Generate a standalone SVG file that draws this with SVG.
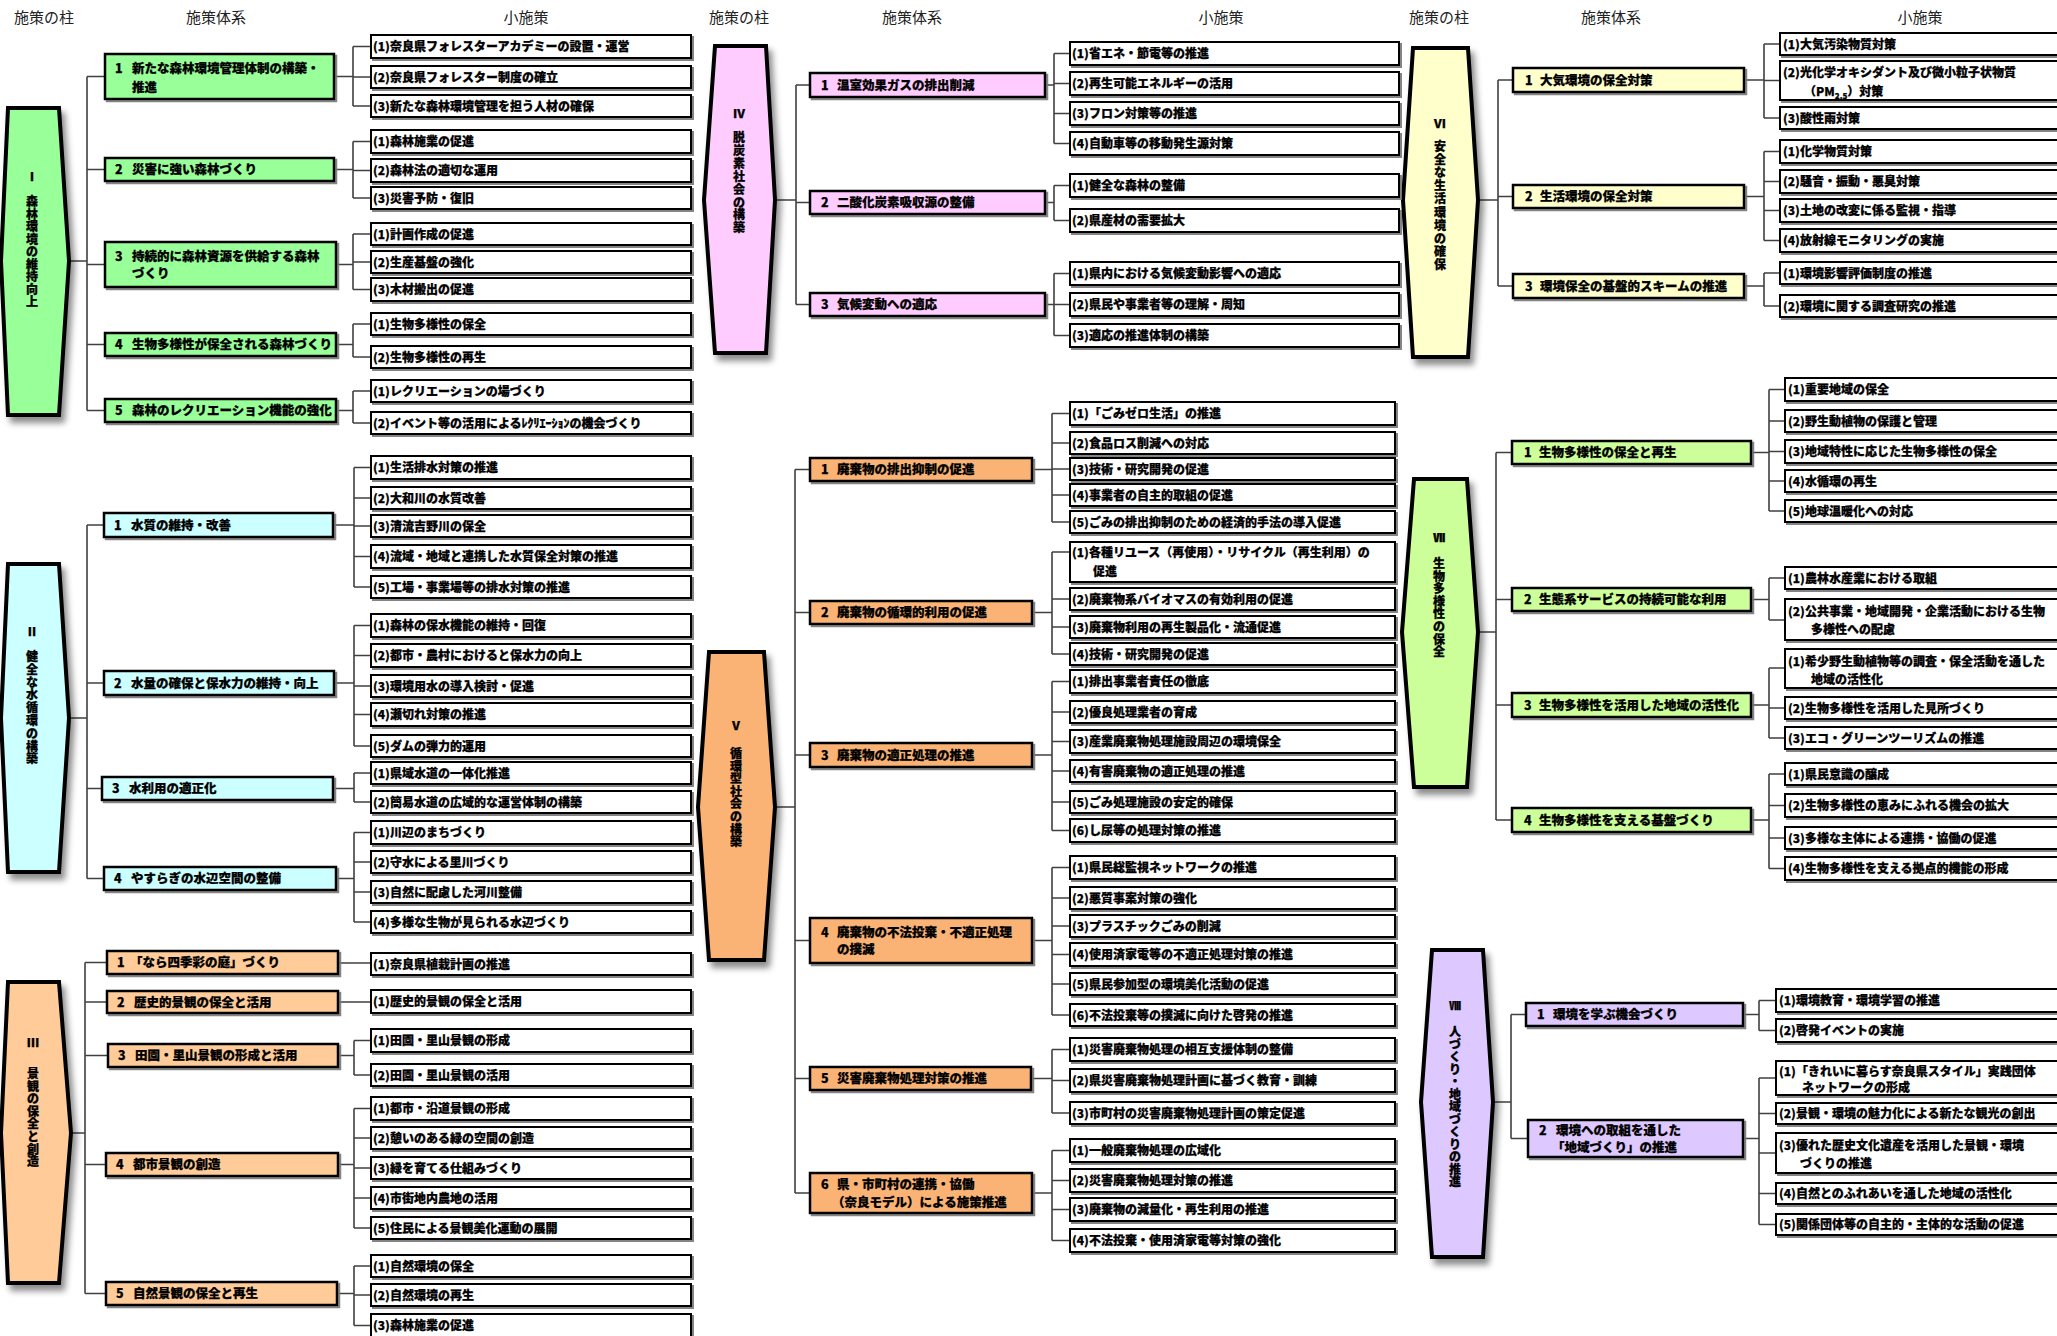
<svg xmlns="http://www.w3.org/2000/svg" width="2057" height="1336" viewBox="0 0 2057 1336">
<defs>
<filter id="psh" x="-40%" y="-10%" width="180%" height="125%"><feDropShadow dx="4" dy="6" stdDeviation="3" flood-color="#000" flood-opacity="0.45"/></filter>
<filter id="sh" x="-5%" y="-30%" width="115%" height="170%"><feDropShadow dx="2" dy="2" stdDeviation="0.6" flood-color="#777" flood-opacity="0.9"/></filter>
</defs>
<style>
.hd{font-family:"Noto Sans CJK JP","Noto Sans",sans-serif;font-size:15px;fill:#222;text-anchor:middle}
.pil{stroke:#000;stroke-width:4;stroke-linejoin:miter;filter:url(#psh)}
.l2{stroke:#000;stroke-width:2.5;filter:url(#sh)}
.it{fill:#fff;stroke:#000;stroke-width:2;filter:url(#sh)}
.t{font-family:"Noto Sans CJK JP","Noto Sans",sans-serif;font-weight:900;font-size:12px;fill:#000;stroke:#000;stroke-width:0.25}
.t2{font-family:"Noto Sans CJK JP","Noto Sans",sans-serif;font-weight:900;font-size:12.5px;fill:#000;stroke:#000;stroke-width:0.25}
.pt{font-family:"Noto Sans CJK JP","Noto Sans",sans-serif;font-weight:900;font-size:12px;fill:#000;text-anchor:middle;stroke:#000;stroke-width:0.25}
.cn{fill:none;stroke:#404040;stroke-width:1.6}
.c1{fill:#99FF99}.c2{fill:#CCFFFF}.c3{fill:#FFCC99}.c4{fill:#FFCCFF}.c5{fill:#FAB375}.c6{fill:#FFFFCC}.c7{fill:#CCFF99}.c8{fill:#DDC8FF}
</style>
<rect width="2057" height="1336" fill="#fff"/>
<g id="headers">
<text class="hd" x="44" y="23">施策の柱</text><text class="hd" x="216" y="23">施策体系</text><text class="hd" x="526" y="23">小施策</text>
<text class="hd" x="739" y="23">施策の柱</text><text class="hd" x="912" y="23">施策体系</text><text class="hd" x="1221" y="23">小施策</text>
<text class="hd" x="1439" y="23">施策の柱</text><text class="hd" x="1611" y="23">施策体系</text><text class="hd" x="1920" y="23">小施策</text>
</g>
<g id="connectors" class="cn">
<path d="M69 261H87M87 76.5V410.5M87 76.5H105M87 169.5H105M87 264.5H105M87 344.5H105M87 410.5H105"/>
<path d="M334 76.5H353M353 46.5V106M353 46.5H371M353 77H371M353 106H371"/>
<path d="M334 169.5H353M353 141.5V198M353 141.5H371M353 170.5H371M353 198H371"/>
<path d="M336 264.5H353M353 234V289.5M353 234H371M353 262H371M353 289.5H371"/>
<path d="M336 344.5H353M353 324V357M353 324H371M353 357H371"/>
<path d="M336 410.5H353M353 391V423M353 391H371M353 423H371"/>
<path d="M69 718H87M87 525V878.5M87 525H104M87 683H104M87 788.5H102M87 878.5H104"/>
<path d="M333 525H354M354 467.5V587M354 467.5H371M354 498H371M354 526H371M354 556.5H371M354 587H371"/>
<path d="M334 683H354M354 625.5V746M354 625.5H371M354 655.5H371M354 686H371M354 714.5H371M354 746H371"/>
<path d="M333 788.5H354M354 773V802M354 773H371M354 802H371"/>
<path d="M336 878.5H354M354 832.5V922M354 832.5H371M354 862H371M354 892H371M354 922H371"/>
<path d="M71 1133H85M85 962.5V1293.5M85 962.5H107M85 1002H107M85 1055.5H108M85 1164.5H106M85 1293.5H106"/>
<path d="M338 963H371M338 1002H371"/>
<path d="M338 1055.5H354M354 1040.5V1075M354 1040.5H371M354 1075H371"/>
<path d="M338 1164.5H354M354 1108.5V1228M354 1108.5H371M354 1138H371M354 1168H371M354 1198H371M354 1228H371"/>
<path d="M337 1293.5H354M354 1266V1325.5M354 1266H371M354 1295H371M354 1325.5H371"/>
<path d="M775 200H796M796 85V304.5M796 85H810M796 202.5H810M796 304.5H810"/>
<path d="M1045 85H1054M1054 53.5V143.5M1054 53.5H1070M1054 83.5H1070M1054 113.5H1070M1054 143.5H1070"/>
<path d="M1045 202.5H1054M1054 185.5V220.5M1054 185.5H1070M1054 220.5H1070"/>
<path d="M1045 304.5H1054M1054 273.5V335.5M1054 273.5H1070M1054 304.5H1070M1054 335.5H1070"/>
<path d="M775 807H795M795 469.5V1193M795 469.5H810M795 612.5H810M795 755H810M795 940.5H810M795 1078.5H810M795 1193H810"/>
<path d="M1032 469.5H1052M1052 413.5V522M1052 413.5H1070M1052 443H1070M1052 469H1070M1052 495H1070M1052 522H1070"/>
<path d="M1032 612.5H1052M1052 552V654M1052 552H1070M1052 599H1070M1052 627H1070M1052 654H1070"/>
<path d="M1032 755H1052M1052 681.5V830.5M1052 681.5H1070M1052 712H1070M1052 741.5H1070M1052 771H1070M1052 802H1070M1052 830.5H1070"/>
<path d="M1032 940.5H1052M1052 867.5V1015M1052 867.5H1070M1052 898H1070M1052 926H1070M1052 954.5H1070M1052 984H1070M1052 1015H1070"/>
<path d="M1031 1078.5H1052M1052 1049.5V1113M1052 1049.5H1070M1052 1080.5H1070M1052 1113H1070"/>
<path d="M1032 1193H1052M1052 1150.5V1240.5M1052 1150.5H1070M1052 1180.5H1070M1052 1209.5H1070M1052 1240.5H1070"/>
<path d="M1478 200H1498M1498 80V286M1498 80H1513M1498 196.5H1513M1498 286H1513"/>
<path d="M1744 80H1764M1764 44V118M1764 44H1780M1764 80.5H1780M1764 118H1780"/>
<path d="M1744 196.5H1764M1764 151.5V240.5M1764 151.5H1780M1764 181.5H1780M1764 210.5H1780M1764 240.5H1780"/>
<path d="M1744 286H1764M1764 273V306M1764 273H1780M1764 306H1780"/>
<path d="M1478 632H1496M1496 452.5V820M1496 452.5H1512M1496 599.5H1512M1496 705H1512M1496 820H1512"/>
<path d="M1751 452.5H1769M1769 389.5V511M1769 389.5H1785M1769 421H1785M1769 451.5H1785M1769 481H1785M1769 511H1785"/>
<path d="M1751 599.5H1769M1769 578V620M1769 578H1785M1769 620H1785"/>
<path d="M1751 705H1769M1769 668V738M1769 668H1785M1769 708H1785M1769 738H1785"/>
<path d="M1751 820H1769M1769 774V868.5M1769 774H1785M1769 805.5H1785M1769 838H1785M1769 868.5H1785"/>
<path d="M1493 1102H1511M1511 1014.5V1138.5M1511 1014.5H1526M1511 1138.5H1528"/>
<path d="M1743 1014.5H1759M1759 1000.5V1030.5M1759 1000.5H1776M1759 1030.5H1776"/>
<path d="M1743 1138.5H1759M1759 1078V1224.5M1759 1078H1776M1759 1113.5H1776M1759 1153H1776M1759 1193.5H1776M1759 1224.5H1776"/>
</g>

<g id="pillar-1"><polygon class="pil c1" points="8,108 59,108 69,261 59,415 8,415 1,261"/>
<text class="pt" x="32" y="181">Ⅰ</text>
<text class="pt" x="32 32 32 32 32 32 32 32 32" y="206 218.5 231 243.5 256 268.5 281 293.5 306">森林環境の維持向上</text></g>
<g id="pillar-2"><polygon class="pil c2" points="8,564 59,564 69,718 59,872 8,872 1,718"/>
<text class="pt" x="32" y="636">Ⅱ</text>
<text class="pt" x="32 32 32 32 32 32 32 32 32" y="661 673.8 686.6 699.4 712.2 725 737.8 750.6 763.4">健全な水循環の構築</text></g>
<g id="pillar-3"><polygon class="pil c3" points="8,982 59,982 71,1133 59,1283 8,1283 1,1133"/>
<text class="pt" x="33" y="1047">Ⅲ</text>
<text class="pt" x="33 33 33 33 33 33 33 33" y="1078 1090.6 1103.2 1115.8 1128.4 1141 1153.6 1166.2">景観の保全と創造</text></g>
<g id="pillar-4"><polygon class="pil c4" points="715,46 766,46 775,200 766,353 715,353 704,200"/>
<text class="pt" x="739" y="118">Ⅳ</text>
<text class="pt" x="739 739 739 739 739 739 739 739" y="142 154.9 167.8 180.7 193.6 206.5 219.4 232.3">脱炭素社会の構築</text></g>
<g id="pillar-5"><polygon class="pil c5" points="709,652 764,652 775,807 764,960 709,960 698,807"/>
<text class="pt" x="736" y="730">Ⅴ</text>
<text class="pt" x="736 736 736 736 736 736 736 736" y="758 770.6 783.2 795.8 808.4 821 833.6 846.2">循環型社会の構築</text></g>
<g id="pillar-6"><polygon class="pil c6" points="1413,48 1468,48 1478,200 1468,357 1413,357 1403,200"/>
<text class="pt" x="1440" y="128">Ⅵ</text>
<text class="pt" x="1440 1440 1440 1440 1440 1440 1440 1440 1440 1440" y="151 164.1 177.2 190.3 203.4 216.5 229.6 242.7 255.8 268.9">安全な生活環境の確保</text></g>
<g id="pillar-7"><polygon class="pil c7" points="1414,479 1467,479 1478,632 1467,787 1414,787 1402,632"/>
<text class="pt" x="1439" y="542">Ⅶ</text>
<text class="pt" x="1439 1439 1439 1439 1439 1439 1439 1439" y="568 580.6 593.2 605.8 618.4 631 643.6 656.2">生物多様性の保全</text></g>
<g id="pillar-8"><polygon class="pil c8" points="1432,950 1483,950 1493,1102 1483,1257 1432,1257 1421,1102"/>
<text class="pt" x="1455" y="1010">Ⅷ</text>
<text class="pt" x="1455 1455 1455 1455 1455 1455 1455 1455 1455 1455 1455 1455 1455" y="1036 1048.5 1061 1073.5 1086 1098.5 1111 1123.5 1136 1148.5 1161 1173.5 1186">人づくり・地域づくりの推進</text></g>

<g id="m1-1"><rect class="l2 c1" x="105" y="54" width="229" height="45"/><text class="t2" y="73"><tspan x="115">1</tspan><tspan x="132">新たな森林環境管理体制の構築・</tspan></text><text class="t2" x="132" y="91.5">推進</text></g>
<g id="m1-2"><rect class="l2 c1" x="105" y="158" width="229" height="23"/><text class="t2" y="174"><tspan x="115">2</tspan><tspan x="132">災害に強い森林づくり</tspan></text></g>
<g id="m1-3"><rect class="l2 c1" x="105" y="242" width="231" height="45"/><text class="t2" y="260.5"><tspan x="115">3</tspan><tspan x="132">持続的に森林資源を供給する森林</tspan></text><text class="t2" x="132" y="277.5">づくり</text></g>
<g id="m1-4"><rect class="l2 c1" x="105" y="333" width="231" height="23"/><text class="t2" y="349"><tspan x="115">4</tspan><tspan x="132">生物多様性が保全される森林づくり</tspan></text></g>
<g id="m1-5"><rect class="l2 c1" x="105" y="399" width="231" height="23"/><text class="t2" y="415"><tspan x="115">5</tspan><tspan x="132">森林のレクリエーション機能の強化</tspan></text></g>
<g id="m2-1"><rect class="l2 c2" x="104" y="513" width="229" height="24"/><text class="t2" y="529.5"><tspan x="114">1</tspan><tspan x="131">水質の維持・改善</tspan></text></g>
<g id="m2-2"><rect class="l2 c2" x="104" y="671" width="230" height="24"/><text class="t2" y="687.5"><tspan x="114">2</tspan><tspan x="131">水量の確保と保水力の維持・向上</tspan></text></g>
<g id="m2-3"><rect class="l2 c2" x="102" y="777" width="231" height="23"/><text class="t2" y="793"><tspan x="112">3</tspan><tspan x="129">水利用の適正化</tspan></text></g>
<g id="m2-4"><rect class="l2 c2" x="104" y="867" width="232" height="23"/><text class="t2" y="883"><tspan x="114">4</tspan><tspan x="131">やすらぎの水辺空間の整備</tspan></text></g>
<g id="m3-1"><rect class="l2 c3" x="107" y="951" width="231" height="23"/><text class="t2" y="967"><tspan x="117">1</tspan><tspan x="130">「なら四季彩の庭」づくり</tspan></text></g>
<g id="m3-2"><rect class="l2 c3" x="107" y="991" width="231" height="22"/><text class="t2" y="1006.5"><tspan x="117">2</tspan><tspan x="134">歴史的景観の保全と活用</tspan></text></g>
<g id="m3-3"><rect class="l2 c3" x="108" y="1044" width="230" height="23"/><text class="t2" y="1060"><tspan x="118">3</tspan><tspan x="135">田園・里山景観の形成と活用</tspan></text></g>
<g id="m3-4"><rect class="l2 c3" x="106" y="1153" width="232" height="23"/><text class="t2" y="1169"><tspan x="116">4</tspan><tspan x="133">都市景観の創造</tspan></text></g>
<g id="m3-5"><rect class="l2 c3" x="106" y="1282" width="231" height="23"/><text class="t2" y="1298"><tspan x="116">5</tspan><tspan x="133">自然景観の保全と再生</tspan></text></g>
<g id="m4-1"><rect class="l2 c4" x="810" y="73" width="235" height="24"/><text class="t2" y="89.5"><tspan x="821">1</tspan><tspan x="837">温室効果ガスの排出削減</tspan></text></g>
<g id="m4-2"><rect class="l2 c4" x="810" y="191" width="235" height="23"/><text class="t2" y="207"><tspan x="821">2</tspan><tspan x="837">二酸化炭素吸収源の整備</tspan></text></g>
<g id="m4-3"><rect class="l2 c4" x="810" y="293" width="235" height="23"/><text class="t2" y="309"><tspan x="821">3</tspan><tspan x="837">気候変動への適応</tspan></text></g>
<g id="m5-1"><rect class="l2 c5" x="810" y="458" width="222" height="23"/><text class="t2" y="474"><tspan x="821">1</tspan><tspan x="837">廃棄物の排出抑制の促進</tspan></text></g>
<g id="m5-2"><rect class="l2 c5" x="810" y="601" width="222" height="23"/><text class="t2" y="617"><tspan x="821">2</tspan><tspan x="837">廃棄物の循環的利用の促進</tspan></text></g>
<g id="m5-3"><rect class="l2 c5" x="810" y="743" width="222" height="24"/><text class="t2" y="759.5"><tspan x="821">3</tspan><tspan x="837">廃棄物の適正処理の推進</tspan></text></g>
<g id="m5-4"><rect class="l2 c5" x="810" y="918" width="222" height="45"/><text class="t2" y="936.5"><tspan x="821">4</tspan><tspan x="837">廃棄物の不法投棄・不適正処理</tspan></text><text class="t2" x="837" y="953.5">の撲滅</text></g>
<g id="m5-5"><rect class="l2 c5" x="810" y="1067" width="221" height="23"/><text class="t2" y="1083"><tspan x="821">5</tspan><tspan x="837">災害廃棄物処理対策の推進</tspan></text></g>
<g id="m5-6"><rect class="l2 c5" x="810" y="1173" width="222" height="40"/><text class="t2" y="1188.5"><tspan x="821">6</tspan><tspan x="837">県・市町村の連携・協働</tspan></text><text class="t2" x="832" y="1206.5">（奈良モデル）による施策推進</text></g>
<g id="m6-1"><rect class="l2 c6" x="1513" y="68" width="231" height="24"/><text class="t2" y="84.5"><tspan x="1525">1</tspan><tspan x="1540">大気環境の保全対策</tspan></text></g>
<g id="m6-2"><rect class="l2 c6" x="1513" y="185" width="231" height="23"/><text class="t2" y="201"><tspan x="1525">2</tspan><tspan x="1540">生活環境の保全対策</tspan></text></g>
<g id="m6-3"><rect class="l2 c6" x="1513" y="274" width="231" height="24"/><text class="t2" y="290.5"><tspan x="1525">3</tspan><tspan x="1540">環境保全の基盤的スキームの推進</tspan></text></g>
<g id="m7-1"><rect class="l2 c7" x="1512" y="441" width="239" height="23"/><text class="t2" y="457"><tspan x="1524">1</tspan><tspan x="1539">生物多様性の保全と再生</tspan></text></g>
<g id="m7-2"><rect class="l2 c7" x="1512" y="588" width="239" height="23"/><text class="t2" y="604"><tspan x="1524">2</tspan><tspan x="1539">生態系サービスの持続可能な利用</tspan></text></g>
<g id="m7-3"><rect class="l2 c7" x="1512" y="693" width="239" height="24"/><text class="t2" y="709.5"><tspan x="1524">3</tspan><tspan x="1539">生物多様性を活用した地域の活性化</tspan></text></g>
<g id="m7-4"><rect class="l2 c7" x="1512" y="808" width="239" height="24"/><text class="t2" y="824.5"><tspan x="1524">4</tspan><tspan x="1539">生物多様性を支える基盤づくり</tspan></text></g>
<g id="m8-1"><rect class="l2 c8" x="1526" y="1003" width="217" height="23"/><text class="t2" y="1019"><tspan x="1537">1</tspan><tspan x="1553">環境を学ぶ機会づくり</tspan></text></g>
<g id="m8-2"><rect class="l2 c8" x="1528" y="1120" width="215" height="37"/><text class="t2" y="1134.5"><tspan x="1539">2</tspan><tspan x="1556">環境への取組を通した</tspan></text><text class="t2" x="1552" y="1151.5">「地域づくり」の推進</text></g>

<g id="items-1">
<g id="s1-1-1"><rect class="it" x="371" y="35" width="320" height="23"/><text class="t" x="373" y="51">(1)奈良県フォレスターアカデミーの設置・運営</text></g>
<g id="s1-1-2"><rect class="it" x="371" y="66" width="320" height="22"/><text class="t" x="373" y="81.5">(2)奈良県フォレスター制度の確立</text></g>
<g id="s1-1-3"><rect class="it" x="371" y="95" width="320" height="22"/><text class="t" x="373" y="110.5">(3)新たな森林環境管理を担う人材の確保</text></g>
<g id="s1-2-1"><rect class="it" x="371" y="130" width="320" height="23"/><text class="t" x="373" y="146">(1)森林施業の促進</text></g>
<g id="s1-2-2"><rect class="it" x="371" y="159" width="320" height="23"/><text class="t" x="373" y="175">(2)森林法の適切な運用</text></g>
<g id="s1-2-3"><rect class="it" x="371" y="187" width="320" height="22"/><text class="t" x="373" y="202.5">(3)災害予防・復旧</text></g>
<g id="s1-3-1"><rect class="it" x="371" y="223" width="320" height="22"/><text class="t" x="373" y="238.5">(1)計画作成の促進</text></g>
<g id="s1-3-2"><rect class="it" x="371" y="251" width="320" height="22"/><text class="t" x="373" y="266.5">(2)生産基盤の強化</text></g>
<g id="s1-3-3"><rect class="it" x="371" y="278" width="320" height="23"/><text class="t" x="373" y="294">(3)木材搬出の促進</text></g>
<g id="s1-4-1"><rect class="it" x="371" y="313" width="320" height="22"/><text class="t" x="373" y="328.5">(1)生物多様性の保全</text></g>
<g id="s1-4-2"><rect class="it" x="371" y="346" width="320" height="22"/><text class="t" x="373" y="361.5">(2)生物多様性の再生</text></g>
<g id="s1-5-1"><rect class="it" x="371" y="380" width="320" height="22"/><text class="t" x="373" y="395.5">(1)レクリエーションの場づくり</text></g>
<g id="s1-5-2"><rect class="it" x="371" y="412" width="320" height="22"/><text class="t" x="373" y="427.5">(2)イベント等の活用によるﾚｸﾘｴｰｼｮﾝの機会づくり</text></g>
</g>
<g id="items-2">
<g id="s2-1-1"><rect class="it" x="371" y="456" width="320" height="23"/><text class="t" x="373" y="472">(1)生活排水対策の推進</text></g>
<g id="s2-1-2"><rect class="it" x="371" y="487" width="320" height="22"/><text class="t" x="373" y="502.5">(2)大和川の水質改善</text></g>
<g id="s2-1-3"><rect class="it" x="371" y="515" width="320" height="22"/><text class="t" x="373" y="530.5">(3)清流吉野川の保全</text></g>
<g id="s2-1-4"><rect class="it" x="371" y="545" width="320" height="23"/><text class="t" x="373" y="561">(4)流域・地域と連携した水質保全対策の推進</text></g>
<g id="s2-1-5"><rect class="it" x="371" y="576" width="320" height="22"/><text class="t" x="373" y="591.5">(5)工場・事業場等の排水対策の推進</text></g>
<g id="s2-2-1"><rect class="it" x="371" y="614" width="320" height="23"/><text class="t" x="373" y="630">(1)森林の保水機能の維持・回復</text></g>
<g id="s2-2-2"><rect class="it" x="371" y="644" width="320" height="23"/><text class="t" x="373" y="660">(2)都市・農村におけると保水力の向上</text></g>
<g id="s2-2-3"><rect class="it" x="371" y="675" width="320" height="22"/><text class="t" x="373" y="690.5">(3)環境用水の導入検討・促進</text></g>
<g id="s2-2-4"><rect class="it" x="371" y="703" width="320" height="23"/><text class="t" x="373" y="719">(4)瀬切れ対策の推進</text></g>
<g id="s2-2-5"><rect class="it" x="371" y="735" width="320" height="22"/><text class="t" x="373" y="750.5">(5)ダムの弾力的運用</text></g>
<g id="s2-3-1"><rect class="it" x="371" y="762" width="320" height="22"/><text class="t" x="373" y="777.5">(1)県域水道の一体化推進</text></g>
<g id="s2-3-2"><rect class="it" x="371" y="791" width="320" height="22"/><text class="t" x="373" y="806.5">(2)簡易水道の広域的な運営体制の構築</text></g>
<g id="s2-4-1"><rect class="it" x="371" y="821" width="320" height="23"/><text class="t" x="373" y="837">(1)川辺のまちづくり</text></g>
<g id="s2-4-2"><rect class="it" x="371" y="851" width="320" height="22"/><text class="t" x="373" y="866.5">(2)守水による里川づくり</text></g>
<g id="s2-4-3"><rect class="it" x="371" y="881" width="320" height="22"/><text class="t" x="373" y="896.5">(3)自然に配慮した河川整備</text></g>
<g id="s2-4-4"><rect class="it" x="371" y="911" width="320" height="22"/><text class="t" x="373" y="926.5">(4)多様な生物が見られる水辺づくり</text></g>
</g>
<g id="items-3">
<g id="s3-1-1"><rect class="it" x="371" y="953" width="320" height="22"/><text class="t" x="373" y="968.5">(1)奈良県植栽計画の推進</text></g>
<g id="s3-2-1"><rect class="it" x="371" y="990" width="320" height="23"/><text class="t" x="373" y="1006">(1)歴史的景観の保全と活用</text></g>
<g id="s3-3-1"><rect class="it" x="371" y="1029" width="320" height="23"/><text class="t" x="373" y="1045">(1)田園・里山景観の形成</text></g>
<g id="s3-3-2"><rect class="it" x="371" y="1064" width="320" height="22"/><text class="t" x="373" y="1079.5">(2)田園・里山景観の活用</text></g>
<g id="s3-4-1"><rect class="it" x="371" y="1097" width="320" height="23"/><text class="t" x="373" y="1113">(1)都市・沿道景観の形成</text></g>
<g id="s3-4-2"><rect class="it" x="371" y="1127" width="320" height="22"/><text class="t" x="373" y="1142.5">(2)憩いのある緑の空間の創造</text></g>
<g id="s3-4-3"><rect class="it" x="371" y="1157" width="320" height="22"/><text class="t" x="373" y="1172.5">(3)緑を育てる仕組みづくり</text></g>
<g id="s3-4-4"><rect class="it" x="371" y="1187" width="320" height="22"/><text class="t" x="373" y="1202.5">(4)市街地内農地の活用</text></g>
<g id="s3-4-5"><rect class="it" x="371" y="1217" width="320" height="22"/><text class="t" x="373" y="1232.5">(5)住民による景観美化運動の展開</text></g>
<g id="s3-5-1"><rect class="it" x="371" y="1255" width="320" height="22"/><text class="t" x="373" y="1270.5">(1)自然環境の保全</text></g>
<g id="s3-5-2"><rect class="it" x="371" y="1284" width="320" height="22"/><text class="t" x="373" y="1299.5">(2)自然環境の再生</text></g>
<g id="s3-5-3"><rect class="it" x="371" y="1314" width="320" height="24"/><text class="t" x="373" y="1330">(3)森林施業の促進</text></g>
</g>
<g id="items-4">
<g id="s4-1-1"><rect class="it" x="1070" y="42" width="329" height="23"/><text class="t" x="1072" y="58">(1)省エネ・節電等の推進</text></g>
<g id="s4-1-2"><rect class="it" x="1070" y="72" width="329" height="23"/><text class="t" x="1072" y="88">(2)再生可能エネルギーの活用</text></g>
<g id="s4-1-3"><rect class="it" x="1070" y="102" width="329" height="23"/><text class="t" x="1072" y="118">(3)フロン対策等の推進</text></g>
<g id="s4-1-4"><rect class="it" x="1070" y="132" width="329" height="23"/><text class="t" x="1072" y="148">(4)自動車等の移動発生源対策</text></g>
<g id="s4-2-1"><rect class="it" x="1070" y="174" width="329" height="23"/><text class="t" x="1072" y="190">(1)健全な森林の整備</text></g>
<g id="s4-2-2"><rect class="it" x="1070" y="209" width="329" height="23"/><text class="t" x="1072" y="225">(2)県産材の需要拡大</text></g>
<g id="s4-3-1"><rect class="it" x="1070" y="262" width="329" height="23"/><text class="t" x="1072" y="278">(1)県内における気候変動影響への適応</text></g>
<g id="s4-3-2"><rect class="it" x="1070" y="293" width="329" height="23"/><text class="t" x="1072" y="309">(2)県民や事業者等の理解・周知</text></g>
<g id="s4-3-3"><rect class="it" x="1070" y="324" width="329" height="23"/><text class="t" x="1072" y="340">(3)適応の推進体制の構築</text></g>
</g>
<g id="items-5">
<g id="s5-1-1"><rect class="it" x="1070" y="402" width="325" height="23"/><text class="t" x="1072" y="418">(1)「ごみゼロ生活」の推進</text></g>
<g id="s5-1-2"><rect class="it" x="1070" y="432" width="325" height="22"/><text class="t" x="1072" y="447.5">(2)食品ロス削減への対応</text></g>
<g id="s5-1-3"><rect class="it" x="1070" y="458" width="325" height="22"/><text class="t" x="1072" y="473.5">(3)技術・研究開発の促進</text></g>
<g id="s5-1-4"><rect class="it" x="1070" y="484" width="325" height="22"/><text class="t" x="1072" y="499.5">(4)事業者の自主的取組の促進</text></g>
<g id="s5-1-5"><rect class="it" x="1070" y="511" width="325" height="22"/><text class="t" x="1072" y="526.5">(5)ごみの排出抑制のための経済的手法の導入促進</text></g>
<g id="s5-2-1"><rect class="it" x="1070" y="542" width="325" height="40"/><text class="t" x="1072" y="556.5">(1)各種リユース（再使用）・リサイクル（再生利用）の</text><text class="t" x="1093" y="575.5">促進</text></g>
<g id="s5-2-2"><rect class="it" x="1070" y="588" width="325" height="22"/><text class="t" x="1072" y="603.5">(2)廃棄物系バイオマスの有効利用の促進</text></g>
<g id="s5-2-3"><rect class="it" x="1070" y="616" width="325" height="22"/><text class="t" x="1072" y="631.5">(3)廃棄物利用の再生製品化・流通促進</text></g>
<g id="s5-2-4"><rect class="it" x="1070" y="643" width="325" height="22"/><text class="t" x="1072" y="658.5">(4)技術・研究開発の促進</text></g>
<g id="s5-3-1"><rect class="it" x="1070" y="670" width="325" height="23"/><text class="t" x="1072" y="686">(1)排出事業者責任の徹底</text></g>
<g id="s5-3-2"><rect class="it" x="1070" y="701" width="325" height="22"/><text class="t" x="1072" y="716.5">(2)優良処理業者の育成</text></g>
<g id="s5-3-3"><rect class="it" x="1070" y="730" width="325" height="23"/><text class="t" x="1072" y="746">(3)産業廃棄物処理施設周辺の環境保全</text></g>
<g id="s5-3-4"><rect class="it" x="1070" y="760" width="325" height="22"/><text class="t" x="1072" y="775.5">(4)有害廃棄物の適正処理の推進</text></g>
<g id="s5-3-5"><rect class="it" x="1070" y="791" width="325" height="22"/><text class="t" x="1072" y="806.5">(5)ごみ処理施設の安定的確保</text></g>
<g id="s5-3-6"><rect class="it" x="1070" y="819" width="325" height="23"/><text class="t" x="1072" y="835">(6)し尿等の処理対策の推進</text></g>
<g id="s5-4-1"><rect class="it" x="1070" y="856" width="325" height="23"/><text class="t" x="1072" y="872">(1)県民総監視ネットワークの推進</text></g>
<g id="s5-4-2"><rect class="it" x="1070" y="887" width="325" height="22"/><text class="t" x="1072" y="902.5">(2)悪質事案対策の強化</text></g>
<g id="s5-4-3"><rect class="it" x="1070" y="915" width="325" height="22"/><text class="t" x="1072" y="930.5">(3)プラスチックごみの削減</text></g>
<g id="s5-4-4"><rect class="it" x="1070" y="943" width="325" height="23"/><text class="t" x="1072" y="959">(4)使用済家電等の不適正処理対策の推進</text></g>
<g id="s5-4-5"><rect class="it" x="1070" y="973" width="325" height="22"/><text class="t" x="1072" y="988.5">(5)県民参加型の環境美化活動の促進</text></g>
<g id="s5-4-6"><rect class="it" x="1070" y="1004" width="325" height="22"/><text class="t" x="1072" y="1019.5">(6)不法投棄等の撲滅に向けた啓発の推進</text></g>
<g id="s5-5-1"><rect class="it" x="1070" y="1038" width="325" height="23"/><text class="t" x="1072" y="1054">(1)災害廃棄物処理の相互支援体制の整備</text></g>
<g id="s5-5-2"><rect class="it" x="1070" y="1069" width="325" height="23"/><text class="t" x="1072" y="1085">(2)県災害廃棄物処理計画に基づく教育・訓練</text></g>
<g id="s5-5-3"><rect class="it" x="1070" y="1102" width="325" height="22"/><text class="t" x="1072" y="1117.5">(3)市町村の災害廃棄物処理計画の策定促進</text></g>
<g id="s5-6-1"><rect class="it" x="1070" y="1139" width="325" height="23"/><text class="t" x="1072" y="1155">(1)一般廃棄物処理の広域化</text></g>
<g id="s5-6-2"><rect class="it" x="1070" y="1169" width="325" height="23"/><text class="t" x="1072" y="1185">(2)災害廃棄物処理対策の推進</text></g>
<g id="s5-6-3"><rect class="it" x="1070" y="1198" width="325" height="23"/><text class="t" x="1072" y="1214">(3)廃棄物の減量化・再生利用の推進</text></g>
<g id="s5-6-4"><rect class="it" x="1070" y="1229" width="325" height="23"/><text class="t" x="1072" y="1245">(4)不法投棄・使用済家電等対策の強化</text></g>
</g>
<g id="items-6">
<g id="s6-1-1"><rect class="it" x="1780" y="33" width="290" height="22"/><text class="t" x="1783" y="48.5">(1)大気汚染物質対策</text></g>
<g id="s6-1-2"><rect class="it" x="1780" y="61" width="290" height="39"/><text class="t" x="1783" y="76.5">(2)光化学オキシダント及び微小粒子状物質</text><text class="t" x="1804" y="95.5">（PM<tspan font-size="8" dy="3">2.5</tspan><tspan dy="-3">）対策</tspan></text></g>
<g id="s6-1-3"><rect class="it" x="1780" y="107" width="290" height="22"/><text class="t" x="1783" y="122.5">(3)酸性雨対策</text></g>
<g id="s6-2-1"><rect class="it" x="1780" y="140" width="290" height="23"/><text class="t" x="1783" y="156">(1)化学物質対策</text></g>
<g id="s6-2-2"><rect class="it" x="1780" y="170" width="290" height="23"/><text class="t" x="1783" y="186">(2)騒音・振動・悪臭対策</text></g>
<g id="s6-2-3"><rect class="it" x="1780" y="199" width="290" height="23"/><text class="t" x="1783" y="215">(3)土地の改変に係る監視・指導</text></g>
<g id="s6-2-4"><rect class="it" x="1780" y="229" width="290" height="23"/><text class="t" x="1783" y="245">(4)放射線モニタリングの実施</text></g>
<g id="s6-3-1"><rect class="it" x="1780" y="262" width="290" height="22"/><text class="t" x="1783" y="277.5">(1)環境影響評価制度の推進</text></g>
<g id="s6-3-2"><rect class="it" x="1780" y="295" width="290" height="22"/><text class="t" x="1783" y="310.5">(2)環境に関する調査研究の推進</text></g>
</g>
<g id="items-7">
<g id="s7-1-1"><rect class="it" x="1785" y="378" width="290" height="23"/><text class="t" x="1788" y="394">(1)重要地域の保全</text></g>
<g id="s7-1-2"><rect class="it" x="1785" y="410" width="290" height="22"/><text class="t" x="1788" y="425.5">(2)野生動植物の保護と管理</text></g>
<g id="s7-1-3"><rect class="it" x="1785" y="440" width="290" height="23"/><text class="t" x="1788" y="456">(3)地域特性に応じた生物多様性の保全</text></g>
<g id="s7-1-4"><rect class="it" x="1785" y="470" width="290" height="22"/><text class="t" x="1788" y="485.5">(4)水循環の再生</text></g>
<g id="s7-1-5"><rect class="it" x="1785" y="500" width="290" height="22"/><text class="t" x="1788" y="515.5">(5)地球温暖化への対応</text></g>
<g id="s7-2-1"><rect class="it" x="1785" y="567" width="290" height="22"/><text class="t" x="1788" y="582.5">(1)農林水産業における取組</text></g>
<g id="s7-2-2"><rect class="it" x="1785" y="599" width="290" height="41"/><text class="t" x="1788" y="615.5">(2)公共事業・地域開発・企業活動における生物</text><text class="t" x="1811" y="633.5">多様性への配慮</text></g>
<g id="s7-3-1"><rect class="it" x="1785" y="649" width="290" height="39"/><text class="t" x="1788" y="665.5">(1)希少野生動植物等の調査・保全活動を通した</text><text class="t" x="1811" y="683.5">地域の活性化</text></g>
<g id="s7-3-2"><rect class="it" x="1785" y="697" width="290" height="22"/><text class="t" x="1788" y="712.5">(2)生物多様性を活用した見所づくり</text></g>
<g id="s7-3-3"><rect class="it" x="1785" y="727" width="290" height="22"/><text class="t" x="1788" y="742.5">(3)エコ・グリーンツーリズムの推進</text></g>
<g id="s7-4-1"><rect class="it" x="1785" y="763" width="290" height="22"/><text class="t" x="1788" y="778.5">(1)県民意識の醸成</text></g>
<g id="s7-4-2"><rect class="it" x="1785" y="794" width="290" height="23"/><text class="t" x="1788" y="810">(2)生物多様性の恵みにふれる機会の拡大</text></g>
<g id="s7-4-3"><rect class="it" x="1785" y="827" width="290" height="22"/><text class="t" x="1788" y="842.5">(3)多様な主体による連携・協働の促進</text></g>
<g id="s7-4-4"><rect class="it" x="1785" y="857" width="290" height="23"/><text class="t" x="1788" y="873">(4)生物多様性を支える拠点的機能の形成</text></g>
</g>
<g id="items-8">
<g id="s8-1-1"><rect class="it" x="1776" y="989" width="295" height="23"/><text class="t" x="1779" y="1005">(1)環境教育・環境学習の推進</text></g>
<g id="s8-1-2"><rect class="it" x="1776" y="1019" width="295" height="23"/><text class="t" x="1779" y="1035">(2)啓発イベントの実施</text></g>
<g id="s8-2-1"><rect class="it" x="1776" y="1061" width="295" height="34"/><text class="t" x="1779" y="1075.5">(1)「きれいに暮らす奈良県スタイル」実践団体</text><text class="t" x="1802" y="1091.5">ネットワークの形成</text></g>
<g id="s8-2-2"><rect class="it" x="1776" y="1103" width="295" height="21"/><text class="t" x="1779" y="1118">(2)景観・環境の魅力化による新たな観光の創出</text></g>
<g id="s8-2-3"><rect class="it" x="1776" y="1133" width="295" height="40"/><text class="t" x="1779" y="1149.5">(3)優れた歴史文化遺産を活用した景観・環境</text><text class="t" x="1800" y="1167.5">づくりの推進</text></g>
<g id="s8-2-4"><rect class="it" x="1776" y="1183" width="295" height="21"/><text class="t" x="1779" y="1198">(4)自然とのふれあいを通した地域の活性化</text></g>
<g id="s8-2-5"><rect class="it" x="1776" y="1214" width="295" height="21"/><text class="t" x="1779" y="1229">(5)関係団体等の自主的・主体的な活動の促進</text></g>
</g>
</svg>
